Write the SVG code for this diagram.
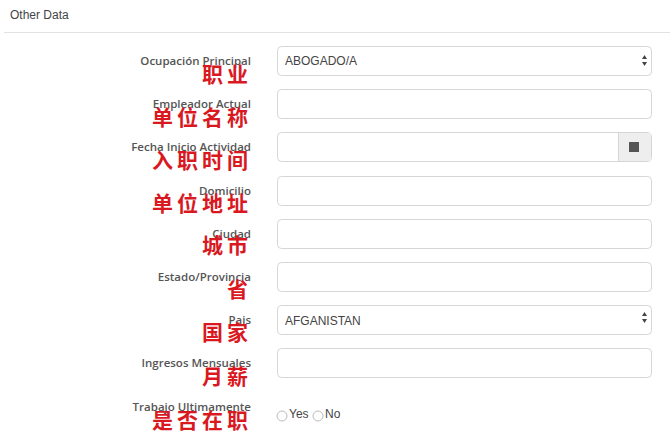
<svg xmlns="http://www.w3.org/2000/svg" width="670" height="437" viewBox="0 0 670 437">
<style>
.lbl{font-family:"Open Sans","Liberation Sans",Arial,sans-serif;font-size:11.5px;fill:#555;text-anchor:end;font-weight:600}
.zh{font-family:"Noto Sans CJK SC",sans-serif;font-size:21px;fill:#d9181f;text-anchor:end;letter-spacing:4px;font-weight:bold}
.box{fill:#fff;stroke:#d6d6d6;stroke-width:1}
.val{font-family:"Liberation Sans",Arial,sans-serif;font-size:12px;fill:#444}
</style>
<rect width="670" height="437" fill="#fff"/>
<text x="10" y="19" font-family="Liberation Sans,Arial,sans-serif" font-size="12" fill="#444">Other Data</text>
<line x1="4" y1="32.5" x2="670" y2="32.5" stroke="#e2e2e2"/>
<g id="f1"><rect class="box" x="277.5" y="46.5" width="374" height="29" rx="4"/><text class="val" x="285" y="65">ABOGADO/A</text><path d="M642 59l2.5-4 2.5 4zM642 62l2.5 4 2.5-4z" fill="#444"/><text class="lbl" x="251" y="65">Ocupación Principal</text><text class="zh" x="252" y="82">职业</text></g>
<g id="f2"><rect class="box" x="277.5" y="89.5" width="374" height="29" rx="4"/><text class="lbl" x="251" y="108">Empleador Actual</text><text class="zh" x="252" y="125">单位名称</text></g>
<g id="f3"><rect class="box" x="277.5" y="132.5" width="374" height="29" rx="4"/><path d="M618.5 133v28" stroke="#d6d6d6"/><rect x="619" y="133" width="32" height="28" fill="#eee"/><rect x="629" y="142" width="10" height="10" fill="#555"/><text class="lbl" x="251" y="151">Fecha Inicio Actividad</text><text class="zh" x="252" y="168">入职时间</text></g>
<g id="f4"><rect class="box" x="277.5" y="176.5" width="374" height="29" rx="4"/><text class="lbl" x="251" y="195">Domicilio</text><text class="zh" x="252" y="211">单位地址</text></g>
<g id="f5"><rect class="box" x="277.5" y="219.5" width="374" height="29" rx="4"/><text class="lbl" x="251" y="238">Ciudad</text><text class="zh" x="252" y="253">城市</text></g>
<g id="f6"><rect class="box" x="277.5" y="262.5" width="374" height="29" rx="4"/><text class="lbl" x="251" y="281">Estado/Provincia</text><text class="zh" x="252" y="297">省</text></g>
<g id="f7"><rect class="box" x="277.5" y="305.5" width="374" height="29" rx="4"/><text class="val" x="285" y="325">AFGANISTAN</text><path d="M642 316l2.5-4 2.5 4zM642 319l2.5 4 2.5-4z" fill="#444"/><text class="lbl" x="251" y="324">Pais</text><text class="zh" x="252" y="340">国家</text></g>
<g id="f8"><rect class="box" x="277.5" y="348.5" width="374" height="29" rx="4"/><text class="lbl" x="251" y="367">Ingresos Mensuales</text><text class="zh" x="252" y="384">月薪</text></g>
<g id="f9"><circle cx="282" cy="416" r="5" fill="#fff" stroke="#bbb"/><text class="val" x="289" y="418">Yes</text><circle cx="318" cy="416" r="5" fill="#fff" stroke="#bbb"/><text class="val" x="325" y="418">No</text><text class="lbl" x="251" y="411">Trabajo Ultimamente</text><text class="zh" x="252" y="428">是否在职</text></g>
<g id="connectors"/>
</svg>
